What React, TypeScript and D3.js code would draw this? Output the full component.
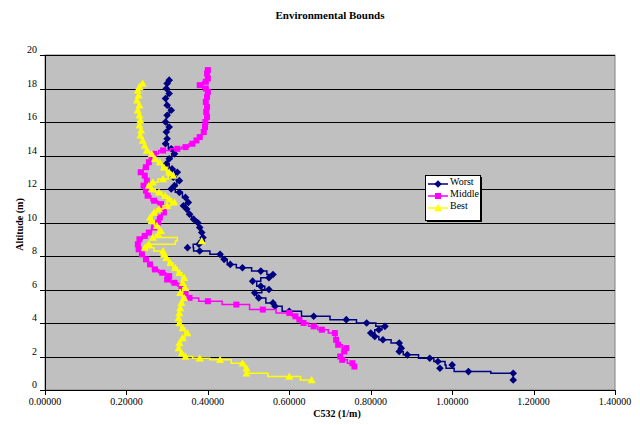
import * as d3 from 'd3';

// [altitude (m), C532 (1/m)] from top of profile down
const worst: [number, number][] = [
  [18.5, 0.305], [18.3, 0.300], [18.0, 0.298], [17.7, 0.305], [17.4, 0.296], [17.0, 0.300],
  [16.7, 0.310], [16.4, 0.300], [16.0, 0.296], [15.7, 0.305], [15.4, 0.298], [15.0, 0.300],
  [14.7, 0.296], [14.4, 0.310], [14.1, 0.318], [13.8, 0.305], [13.5, 0.298], [13.2, 0.312],
  [13.0, 0.325], [12.7, 0.315], [12.5, 0.330], [12.2, 0.318], [12.0, 0.310], [11.8, 0.330],
  [11.5, 0.345], [11.2, 0.352], [11.0, 0.340], [10.8, 0.348], [10.5, 0.355], [10.2, 0.365],
  [10.0, 0.375], [9.7, 0.380], [9.4, 0.385], [9.1, 0.388], [8.9, 0.385], [8.7, 0.378],
  [8.5, 0.350], [8.3, 0.380], [8.1, 0.430], [7.8, 0.440], [7.5, 0.455], [7.3, 0.485],
  [7.1, 0.530], [6.9, 0.560], [6.7, 0.550], [6.5, 0.510], [6.2, 0.530], [6.0, 0.550],
  [5.8, 0.515], [5.5, 0.525], [5.2, 0.560], [5.0, 0.565], [4.7, 0.600], [4.4, 0.660],
  [4.2, 0.740], [4.0, 0.790], [3.8, 0.835], [3.6, 0.820], [3.4, 0.800], [3.2, 0.810],
  [3.0, 0.830], [2.8, 0.870], [2.5, 0.875], [2.3, 0.870], [2.1, 0.890], [1.9, 0.945],
  [1.7, 0.965], [1.5, 1.000], [1.3, 0.970], [1.1, 1.040], [1.0, 1.150], [0.6, 1.150],
];

const middle: [number, number][] = [
  [19.1, 0.400], [18.9, 0.398], [18.6, 0.400], [18.4, 0.395], [18.2, 0.380], [18.0, 0.395],
  [17.8, 0.400], [17.5, 0.398], [17.2, 0.395], [16.9, 0.398], [16.6, 0.396], [16.3, 0.398],
  [16.0, 0.394], [15.7, 0.393], [15.4, 0.390], [15.1, 0.380], [14.9, 0.372], [14.7, 0.362],
  [14.5, 0.345], [14.4, 0.325], [14.3, 0.290], [14.1, 0.268], [13.9, 0.262], [13.6, 0.255],
  [13.3, 0.248], [13.0, 0.235], [12.8, 0.245], [12.5, 0.250], [12.2, 0.242], [11.9, 0.248],
  [11.6, 0.252], [11.3, 0.268], [11.1, 0.285], [10.8, 0.290], [10.6, 0.292], [10.3, 0.282],
  [10.0, 0.278], [9.7, 0.268], [9.4, 0.255], [9.2, 0.245], [9.0, 0.232], [8.7, 0.228],
  [8.4, 0.230], [8.1, 0.238], [7.8, 0.248], [7.5, 0.258], [7.2, 0.270], [7.0, 0.288],
  [6.8, 0.305], [6.6, 0.300], [6.4, 0.318], [6.2, 0.335], [6.0, 0.342], [5.8, 0.345],
  [5.5, 0.355], [5.3, 0.400], [5.1, 0.470], [4.8, 0.535], [4.6, 0.600], [4.4, 0.615],
  [4.2, 0.625], [4.0, 0.635], [3.8, 0.660], [3.6, 0.680], [3.4, 0.712], [3.0, 0.715],
  [2.7, 0.720], [2.5, 0.740], [2.3, 0.735], [2.0, 0.725], [1.8, 0.730], [1.6, 0.755],
  [1.4, 0.760],
];

const best: [number, number][] = [
  [18.3, 0.240], [18.1, 0.232], [17.9, 0.228], [17.6, 0.230], [17.3, 0.226], [17.0, 0.232],
  [16.7, 0.228], [16.4, 0.232], [16.1, 0.234], [15.8, 0.232], [15.5, 0.236], [15.2, 0.234],
  [14.9, 0.240], [14.6, 0.245], [14.3, 0.250], [14.1, 0.262], [13.8, 0.270], [13.6, 0.282],
  [13.3, 0.292], [13.0, 0.305], [12.8, 0.315], [12.6, 0.290], [12.4, 0.265], [12.2, 0.255],
  [12.0, 0.262], [11.8, 0.280], [11.6, 0.295], [11.4, 0.305], [11.2, 0.318], [11.0, 0.300],
  [10.8, 0.280], [10.6, 0.268], [10.3, 0.258], [10.1, 0.262], [9.8, 0.275], [9.5, 0.285],
  [9.3, 0.278], [9.1, 0.265], [8.9, 0.385], [8.7, 0.255], [8.5, 0.245], [8.3, 0.290],
  [8.1, 0.292], [7.9, 0.298], [7.6, 0.308], [7.3, 0.320], [7.0, 0.330], [6.7, 0.342],
  [6.4, 0.338], [6.1, 0.345], [5.8, 0.332], [5.5, 0.342], [5.2, 0.335], [4.9, 0.332],
  [4.6, 0.330], [4.3, 0.328], [4.0, 0.330], [3.7, 0.338], [3.4, 0.350], [3.1, 0.338],
  [2.8, 0.330], [2.5, 0.328], [2.2, 0.336], [2.0, 0.345], [1.9, 0.380], [1.8, 0.430],
  [1.6, 0.485], [1.3, 0.495], [1.0, 0.495], [0.8, 0.600], [0.6, 0.655],
];

const xTicks = [0, 0.2, 0.4, 0.6, 0.8, 1.0, 1.2, 1.4];
const yTicks = [0, 2, 4, 6, 8, 10, 12, 14, 16, 18, 20];

const seriesNames = ['Worst', 'Middle', 'Best'];
const seriesColors = ['#000080', '#FF00FF', '#FFFF00'];

const W = 640, H = 425;
const left = 45, right = 615, top = 55, bottom = 390;
const font = '"Liberation Serif", "Times New Roman", serif';

function Marker({ kind, x, y, color }: { kind: number; x: number; y: number; color: string }) {
  if (kind === 0) {
    const s = 3.8;
    return <path d={`M${x},${y - s}L${x + s},${y}L${x},${y + s}L${x - s},${y}Z`} fill={color} />;
  }
  if (kind === 1) {
    return <rect x={x - 3} y={y - 3} width={6} height={6} fill={color} />;
  }
  const s = 4;
  return <path d={`M${x},${y - s}L${x + s},${y + s * 0.8}L${x - s},${y + s * 0.8}Z`} fill={color} />;
}

export default function App() {
  const x = d3.scaleLinear().domain([0, 1.4]).range([left, right]);
  const y = d3.scaleLinear().domain([0, 20]).range([bottom, top]);
  const fmt = d3.format('.5f');
  // profiles are binned by altitude, so draw them as steps
  const line = d3.line<[number, number]>().x(d => x(d[1])).y(d => y(d[0])).curve(d3.curveStep);
  const all = [worst, middle, best];

  const lx = 425, ly = 175;

  return (
    <svg width={W} height={H} style={{ position: 'absolute', left: 0, top: 0, background: '#fff' }}
      fontFamily={font}>
      <text x={330} y={19} textAnchor="middle" fontSize={11} fontWeight="bold">Environmental Bounds</text>

      <rect x={left} y={top} width={right - left} height={bottom - top} fill="#C0C0C0" stroke="#808080" />
      {yTicks.map(t => (
        <line key={t} x1={left} x2={right} y1={Math.round(y(t)) + 0.5} y2={Math.round(y(t)) + 0.5}
          stroke="#000" strokeWidth={1} />
      ))}
      <line x1={left + 0.5} x2={left + 0.5} y1={top} y2={bottom + 0.5} stroke="#000" />
      <line x1={left} x2={right} y1={bottom + 0.5} y2={bottom + 0.5} stroke="#000" />

      {yTicks.map(t => (
        <g key={t}>
          <line x1={left - 5} x2={left} y1={Math.round(y(t)) + 0.5} y2={Math.round(y(t)) + 0.5} stroke="#000" />
          <text x={left - 8} y={y(t) - 2} textAnchor="end" fontSize={10}>{t}</text>
        </g>
      ))}
      {xTicks.map(t => (
        <g key={t}>
          <line x1={Math.round(x(t)) + 0.5} x2={Math.round(x(t)) + 0.5} y1={bottom} y2={bottom + 5} stroke="#000" />
          <text x={x(t)} y={bottom + 15} textAnchor="middle" fontSize={10}>{fmt(t)}</text>
        </g>
      ))}

      <text x={337} y={417} textAnchor="middle" fontSize={10} fontWeight="bold">C532 (1/m)</text>
      <text transform={`translate(23,${(top + bottom) / 2 + 2}) rotate(-90)`} textAnchor="middle"
        fontSize={10} fontWeight="bold">Altitude (m)</text>

      {all.map((s, i) => (
        <g key={i}>
          <path d={line(s) || ''} fill="none" stroke={seriesColors[i]} strokeWidth={1.5} />
          {s.map((d, j) => (
            <Marker key={j} kind={i} x={x(d[1])} y={y(d[0])} color={seriesColors[i]} />
          ))}
        </g>
      ))}

      <rect x={lx + 2} y={ly + 2} width={55} height={45} fill="#000" />
      <rect x={lx + 0.5} y={ly + 0.5} width={55} height={45} fill="#fff" stroke="#000" />
      {seriesNames.map((n, i) => {
        const yy = ly + 9 + i * 12;
        return (
          <g key={n}>
            <line x1={lx + 3} x2={lx + 23} y1={yy} y2={yy} stroke={seriesColors[i]} strokeWidth={1.5} />
            <Marker kind={i} x={lx + 13} y={yy} color={seriesColors[i]} />
            <text x={lx + 25} y={yy + 1} fontSize={10}>{n}</text>
          </g>
        );
      })}
    </svg>
  );
}
